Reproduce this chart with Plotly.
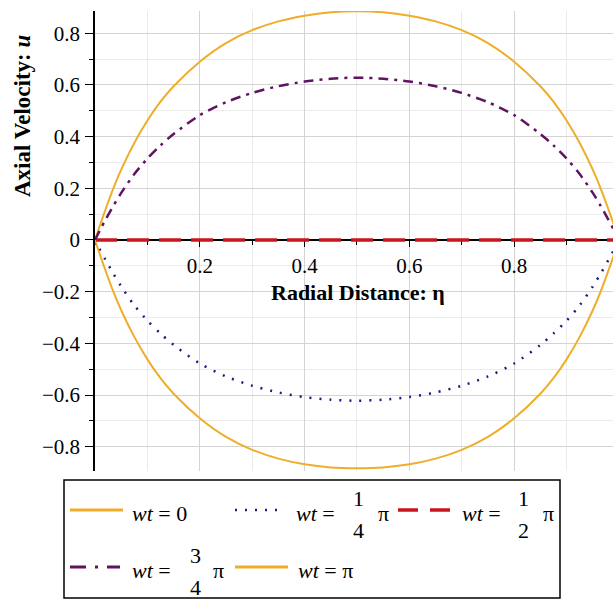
import plotly.graph_objects as go

# ---------------- data ----------------
eta = [0.0, 0.005, 0.01, 0.02, 0.035, 0.05, 0.075, 0.1, 0.125, 0.15, 0.2, 0.25, 0.3, 0.35, 0.4, 0.45, 0.5,
       0.55, 0.6, 0.65, 0.7, 0.75, 0.8, 0.85, 0.875, 0.9, 0.925, 0.95, 0.965, 0.98, 0.99, 0.995, 1.0]

u_wt0 = [0.0, 0.03, 0.06, 0.118, 0.2, 0.272, 0.375, 0.462, 0.535, 0.595, 0.69, 0.762, 0.812, 0.846, 0.868, 0.881, 0.885,
         0.881, 0.868, 0.846, 0.812, 0.762, 0.69, 0.595, 0.535, 0.462, 0.375, 0.272, 0.2, 0.118, 0.06, 0.03, 0.0]

u_wt_quarter = [0.0, -0.02, -0.04, -0.077, -0.13, -0.18, -0.253, -0.312, -0.362, -0.406, -0.478, -0.528, -0.564, -0.59, -0.608, -0.618, -0.622,
                -0.618, -0.608, -0.59, -0.564, -0.528, -0.478, -0.406, -0.362, -0.312, -0.253, -0.18, -0.13, -0.077, -0.04, -0.02, 0.0]

u_wt_half = [0.0, 0.0, 0.0, 0.0, 0.0, 0.0, 0.0, 0.0, 0.0, 0.0, 0.0, 0.0, 0.0, 0.0, 0.0, 0.0, 0.0,
             0.0, 0.0, 0.0, 0.0, 0.0, 0.0, 0.0, 0.0, 0.0, 0.0, 0.0, 0.0, 0.0, 0.0, 0.0, 0.0]

u_wt_3quarter = [0.0, 0.02, 0.04, 0.078, 0.132, 0.182, 0.255, 0.315, 0.366, 0.41, 0.483, 0.533, 0.569, 0.595, 0.613, 0.624, 0.628,
                 0.624, 0.613, 0.595, 0.569, 0.533, 0.483, 0.41, 0.366, 0.315, 0.255, 0.182, 0.132, 0.078, 0.04, 0.02, 0.0]

u_wt_pi = [0.0, -0.03, -0.06, -0.118, -0.2, -0.272, -0.375, -0.462, -0.535, -0.595, -0.69, -0.762, -0.812, -0.846, -0.868, -0.88, -0.883,
           -0.88, -0.868, -0.846, -0.812, -0.762, -0.69, -0.595, -0.535, -0.462, -0.375, -0.272, -0.2, -0.118, -0.06, -0.03, 0.0]

x_ticks = [0.2, 0.4, 0.6, 0.8]
x_ticklabels = ["0.2", "0.4", "0.6", "0.8"]
y_ticks = [-0.8, -0.6, -0.4, -0.2, 0.0, 0.2, 0.4, 0.6, 0.8]
y_ticklabels = ["\u22120.8", "\u22120.6", "\u22120.4", "\u22120.2", "0", "0.2", "0.4", "0.6", "0.8"]

# ---------------- styling ----------------
GOLD = "#EFAD2A"
NAVY = "#1C1C7A"
RED = "#C8161E"
PURPLE = "#5E1460"
SERIF = "Liberation Serif"

W, H = 613, 600
L, R, T, B = 95, 613, 11, 471
X_RANGE = [0.0, 0.9886]
Y_RANGE = [-0.894, 0.886]


def px(p):
    return (p - L) / (R - L)


def py(p):
    return (B - p) / (B - T)


SPL = dict(shape="spline", smoothing=0.8)
fig = go.Figure()
fig.add_trace(go.Scatter(x=eta, y=u_wt0, mode="lines", line=dict(color=GOLD, width=2, **SPL), showlegend=False))
fig.add_trace(go.Scatter(x=eta, y=u_wt_quarter, mode="lines", line=dict(color=NAVY, width=2.5, dash="2px,8px", **SPL), showlegend=False))
fig.add_trace(go.Scatter(x=eta, y=u_wt_half, mode="lines", line=dict(color=RED, width=3.5, dash="22px,10px"), showlegend=False))
fig.add_trace(go.Scatter(x=eta, y=u_wt_3quarter, mode="lines", line=dict(color=PURPLE, width=2.5, dash="10px,6px,3px,6px", **SPL), showlegend=False))
fig.add_trace(go.Scatter(x=eta, y=u_wt_pi, mode="lines", line=dict(color=GOLD, width=2, **SPL), showlegend=False))

zero_pos = (0 - Y_RANGE[0]) / (Y_RANGE[1] - Y_RANGE[0])

fig.update_layout(
    width=W, height=H,
    margin=dict(l=L, r=W - R, t=T, b=H - B, pad=0),
    paper_bgcolor="white", plot_bgcolor="white",
    font=dict(family=SERIF, size=21, color="black"),
    xaxis=dict(
        range=X_RANGE, tickvals=x_ticks, ticktext=x_ticklabels,
        showgrid=True, gridcolor="#D4D4D4", gridwidth=1,
        minor=dict(dtick=0.1, tick0=0, showgrid=True, gridcolor="#EBEBEB", ticks="outside", ticklen=4, tickcolor="black"),
        ticks="outside", ticklen=6, tickcolor="black",
        showline=True, linecolor="black", linewidth=1.5,
        anchor="free", position=zero_pos,
        zeroline=False, layer="below traces",
        tickfont=dict(family=SERIF, size=21),
        ticklabelstandoff=1,
    ),
    yaxis=dict(
        range=Y_RANGE, tickvals=y_ticks, ticktext=y_ticklabels,
        showgrid=True, gridcolor="#D4D4D4", gridwidth=1,
        minor=dict(dtick=0.1, tick0=0, showgrid=True, gridcolor="#EBEBEB", ticks="outside", ticklen=4, tickcolor="black"),
        ticks="outside", ticklen=8, tickcolor="black",
        showline=True, linecolor="black", linewidth=1.5,
        zeroline=False, layer="below traces",
        tickfont=dict(family=SERIF, size=21),
        ticklabelstandoff=1,
    ),
)

annotations = []
# axis titles
annotations.append(dict(x=px(358), y=py(292), xref="paper", yref="paper", showarrow=False,
                        text="<b>Radial Distance: η</b>", font=dict(family=SERIF, size=22),
                        xanchor="center", yanchor="middle"))
annotations.append(dict(x=px(22), y=py(116), xref="paper", yref="paper", showarrow=False,
                        text="<b>Axial Velocity: <i>u</i></b>", font=dict(family=SERIF, size=23),
                        textangle=-90, xanchor="center", yanchor="middle"))

# ---------------- custom legend (Maple style) ----------------
LEG_FONT = dict(family=SERIF, size=22, color="black")
shapes = [dict(type="rect", xref="paper", yref="paper", x0=px(64), x1=px(560), y0=py(598), y1=py(480),
               line=dict(color="black", width=1.5), fillcolor="white", layer="above")]

legend_rows = [
    (70, 123, 510, GOLD, 3, "solid"),
    (235, 282, 510, NAVY, 2.5, "2px,8px"),
    (398, 453, 510, RED, 3.5, "20px,12px"),
    (70, 120, 567, PURPLE, 3, "16px,9px,3px,9px"),
    (235, 288, 567, GOLD, 3, "solid"),
]
for x0, x1, yy, col, wd, ds in legend_rows:
    shapes.append(dict(type="line", xref="paper", yref="paper", x0=px(x0), x1=px(x1), y0=py(yy), y1=py(yy),
                       line=dict(color=col, width=wd, dash=ds), layer="above"))


def txt(x, y, s, anchor="left"):
    annotations.append(dict(x=px(x), y=py(y), xref="paper", yref="paper", showarrow=False, text=s,
                            font=LEG_FONT, xanchor=anchor, yanchor="middle", borderpad=0))


txt(131, 513, "<i>wt</i> = 0")
txt(295, 513, "<i>wt</i> =")
txt(358, 498, "1", "center")
txt(358, 530, "4", "center")
txt(383, 513, "π", "center")
txt(461, 513, "<i>wt</i> =")
txt(523, 498, "1", "center")
txt(523, 530, "2", "center")
txt(548, 513, "π", "center")
txt(131, 570, "<i>wt</i> =")
txt(195, 555, "3", "center")
txt(195, 587, "4", "center")
txt(218, 570, "π", "center")
txt(297, 570, "<i>wt</i> = π")

fig.update_layout(annotations=annotations, shapes=shapes)

fig.write_html(
    "out.html",
    config={"displayModeBar": False},
    post_script="document.body.style.margin='0';document.body.style.padding='0';document.body.style.overflow='hidden';",
)
